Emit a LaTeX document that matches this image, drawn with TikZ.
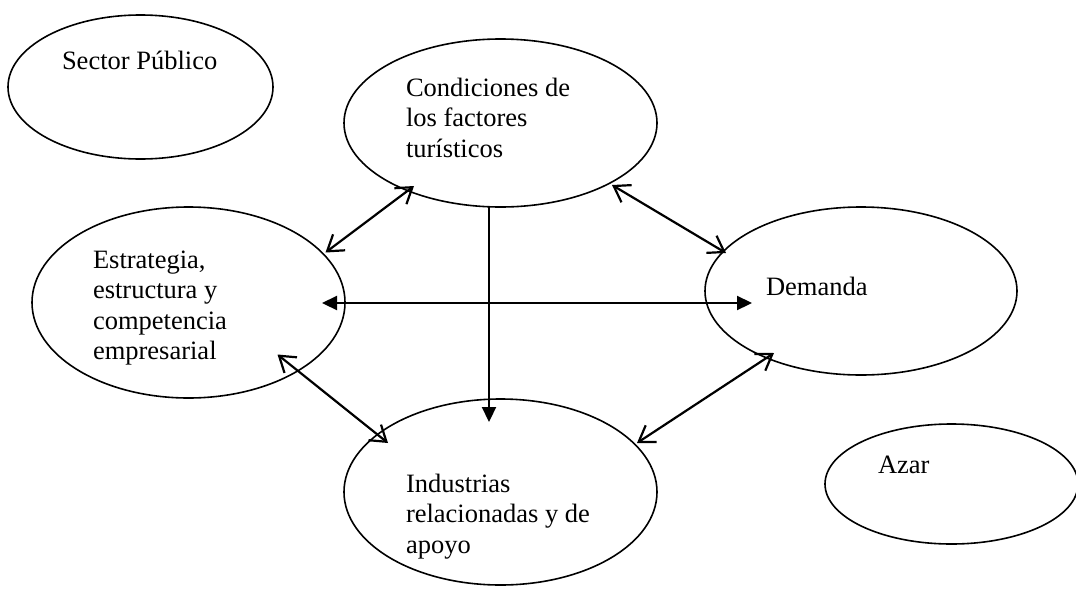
\documentclass[tikz,border=0pt]{standalone}
\usepackage{fontspec}
\setmainfont{Liberation Serif}
\usetikzlibrary{shapes.geometric,arrows.meta,calc}
\tikzset{
  mybarb/.tip={Straight Barb[length=15pt,width=20pt]},
  mytri/.tip={Triangle[length=15pt,width=14pt]},
  oval/.style={ellipse,draw,line width=1.6pt,inner sep=0pt,outer sep=0pt},
  txt/.style={anchor=base west,inner sep=0pt,outer sep=0pt,font=\fontsize{26.5}{30.5}\selectfont},
  link/.style={line width=2.2pt},
}
\newcommand{\lines}[1]{\begin{tabular}[t]{@{}l@{}}#1\end{tabular}}
\begin{document}
\begin{tikzpicture}[x=1pt,y=-1pt]
\clip (0,0) rectangle (1076,592);
\fill[white] (0,0) rectangle (1076,592);

\node[oval,minimum width=265,minimum height=144] (sect) at (140.5,87) {};
\node[oval,minimum width=313,minimum height=168] (cond) at (500.5,123) {};
\node[oval,minimum width=313,minimum height=191] (esta) at (188.5,302.5) {};
\node[oval,minimum width=312,minimum height=168] (dema) at (861,291) {};
\node[oval,minimum width=313,minimum height=186] (indu) at (500.5,492) {};
\node[oval,minimum width=253,minimum height=120] (azar) at (951.5,484) {};

\node[txt] (tsect) at (62,69) {Sector Público};
\node[txt] (tcond) at (406,96) {\lines{Condiciones de\\los factores\\turísticos}};
\node[txt] (testa) at (93,268) {\lines{Estrategia,\\estructura y\\competencia\\empresarial}};
\node[txt] (tdema) at (766,295) {Demanda};
\node[txt] (tindu) at (406,492) {\lines{Industrias\\relacionadas y de\\apoyo}};
\node[txt] (tazar) at (878,473) {Azar};

\draw[link,mybarb-mybarb] ($(esta.center)+(137,-50)$) -- ($(cond.center)+(-86.5,63)$);
\draw[link,mybarb-mybarb] ($(cond.center)+(111.5,62)$) -- ($(dema.center)+(-135,-38)$);
\draw[link,mybarb-mybarb] ($(esta.center)+(89,52)$) -- ($(indu.center)+(-112.5,-49)$);
\draw[link,mybarb-mybarb] ($(dema.center)+(-87,62)$) -- ($(indu.center)+(136.5,-49)$);
\draw[link,mytri-mytri] ($(esta.center)+(133.5,0.5)$) -- ($(dema.center)+(-109,12)$);
\draw[link,-mytri] ($(cond.center)+(-11.5,84)$) -- ($(indu.center)+(-11.5,-70)$);
\end{tikzpicture}
\end{document}
